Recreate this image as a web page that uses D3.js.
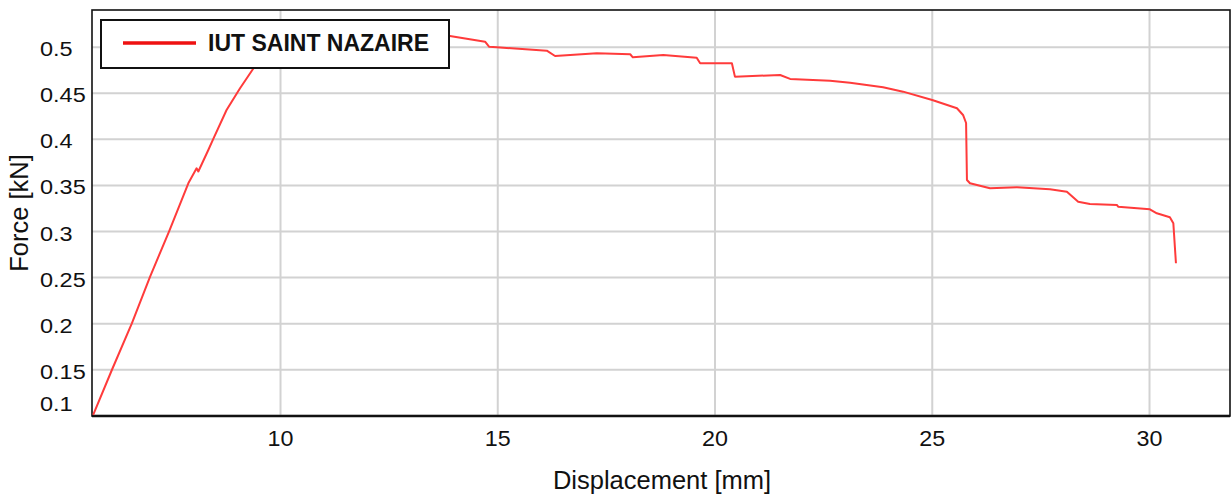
<!DOCTYPE html>
<html><head><meta charset="utf-8">
<script src="https://cdn.jsdelivr.net/npm/d3@7"></script>
<style>
body{margin:0;background:#fff;}
svg{display:block;font-family:"Liberation Sans",Arial,sans-serif;}
</style></head>
<body><svg id="c" width="1232" height="498"></svg>
<script>
const seriesName = "IUT SAINT NAZAIRE";
const displacement = [5.70,6.13,6.59,7.01,7.45,7.89,8.08,8.12,8.35,8.47,8.77,9.08,9.39,9.70,10.0,10.5,11.0,11.5,12.0,12.5,13.0,13.5,13.91,14.72,14.81,14.99,16.14,16.33,17.29,18.06,18.12,18.82,19.59,19.67,20.40,20.47,21.51,21.74,22.66,23.12,23.88,24.34,25.01,25.58,25.72,25.79,25.81,25.88,26.34,26.96,27.72,28.11,28.37,28.64,29.26,29.29,30.02,30.18,30.48,30.56,30.62];
const force = [0.1004,0.1492,0.1999,0.2505,0.3000,0.3518,0.3681,0.3646,0.3879,0.4006,0.4313,0.4549,0.4766,0.4880,0.4960,0.5030,0.5080,0.5110,0.5130,0.5140,0.5140,0.5130,0.5116,0.5054,0.5000,0.4993,0.4957,0.4899,0.4928,0.4918,0.4885,0.4910,0.4881,0.4820,0.4820,0.4675,0.4693,0.4650,0.4631,0.4609,0.4560,0.4512,0.4422,0.4332,0.4259,0.4172,0.3554,0.3518,0.3464,0.3475,0.3453,0.3427,0.3318,0.3293,0.3283,0.3264,0.3236,0.3192,0.3149,0.3084,0.2650];
const xTicks = [10,15,20,25,30];
const yTicks = [0.1,0.15,0.2,0.25,0.3,0.35,0.4,0.45,0.5];
const xTitle = "Displacement [mm]";
const yTitle = "Force [kN]";

const svg = d3.select("#c");
const L=92, R=1230, T=10, B=416;
const x = d3.scaleLinear().domain([5.673,31.864]).range([L,R]);
const y = d3.scaleLinear().domain([0.0993,0.5398]).range([B,T]);
const SXX = 1.06, SXY = 1.12;

// grid
svg.append("g").attr("transform",`translate(0,${B})`)
  .call(d3.axisBottom(x).tickValues(xTicks).tickSize(-(B-T)).tickFormat(""))
  .call(g=>g.select(".domain").remove())
  .call(g=>g.selectAll("line").attr("stroke","#d2d2d2").attr("stroke-width",2));
svg.append("g").attr("transform",`translate(${L},0)`)
  .call(d3.axisLeft(y).tickValues(yTicks).tickSize(-(R-L)).tickFormat(""))
  .call(g=>g.select(".domain").remove())
  .call(g=>g.selectAll("line").attr("stroke","#d2d2d2").attr("stroke-width",2));

// tick labels
svg.append("g").attr("transform",`translate(0,${B})`)
  .call(d3.axisBottom(x).tickValues(xTicks).tickSize(0).tickPadding(0).tickFormat(d3.format("d")))
  .call(g=>g.select(".domain").remove())
  .call(g=>g.selectAll("text").attr("font-size",22).attr("fill","#111").attr("dy",null).attr("y",30)
     .attr("transform",`scale(${SXX},1)`).attr("font-family","Liberation Sans, Arial, sans-serif"));
svg.append("g").attr("transform",`translate(${L},0)`)
  .call(d3.axisLeft(y).tickValues(yTicks).tickSize(0).tickFormat(d=>String(d)))
  .call(g=>g.select(".domain").remove())
  .call(g=>g.selectAll("text").attr("font-size",21).attr("fill","#111").attr("text-anchor","start")
     .attr("x",-52/SXY).attr("transform",`scale(${SXY},1)`)
     .attr("dy",d=>d===0.1?"-0.25em":"0.43em").attr("font-family","Liberation Sans, Arial, sans-serif"));

// frame
svg.append("rect").attr("x",L).attr("y",T).attr("width",R-L).attr("height",B-T)
  .attr("fill","none").attr("stroke","#111").attr("stroke-width",1.6);
svg.append("line").attr("x1",L).attr("x2",R).attr("y1",B).attr("y2",B).attr("stroke","#111").attr("stroke-width",2.6);

// line
const line = d3.line().x((d,i)=>x(displacement[i])).y(d=>y(d)).curve(d3.curveLinear);
svg.append("path").datum(force).attr("d",line).attr("fill","none")
  .attr("stroke","#ff3b3b").attr("stroke-width",2).attr("stroke-linejoin","round");

// legend
const lg = svg.append("g");
lg.append("rect").attr("x",101).attr("y",20).attr("width",348).attr("height",48)
  .attr("fill","#fff").attr("stroke","#111").attr("stroke-width",2);
lg.append("line").attr("x1",123).attr("x2",196).attr("y1",43).attr("y2",43).attr("stroke","#ee1111").attr("stroke-width",3.5);
lg.append("text").attr("x",208).attr("y",51).attr("font-size",23).attr("font-weight","bold").attr("fill","#111").text(seriesName);

// titles
svg.append("text").attr("x",662).attr("y",489).attr("text-anchor","middle").attr("font-size",25.5).attr("fill","#111").text(xTitle);
svg.append("text").attr("transform","translate(28,213) rotate(-90)").attr("text-anchor","middle").attr("font-size",25.5).attr("fill","#111").text(yTitle);
</script></body></html>
